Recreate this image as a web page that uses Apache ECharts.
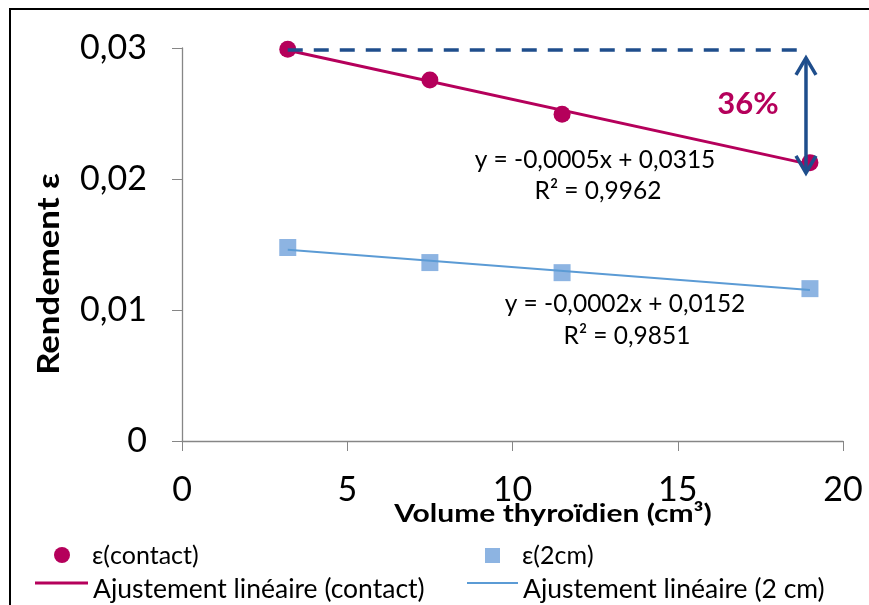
<!DOCTYPE html>
<html><head><meta charset="utf-8">
<script src="https://cdn.jsdelivr.net/npm/echarts@6/dist/echarts.min.js"></script>
<style>html,body{margin:0;padding:0;background:#fff}#c{width:869px;height:605px}</style>
</head><body><div id="c"></div>
<script>
const volumes = [3.2, 7.5, 11.5, 19];
const contactValues = [0.0299, 0.02755, 0.02494, 0.02125];
const twoCmValues = [0.01477, 0.01362, 0.01285, 0.01163];
const xTicks = [0, 5, 10, 15, 20];
const yTicks = [0, 0.01, 0.02, 0.03];
const eqContact = ['y = -0,0005x + 0,0315', 'R² = 0,9962'];
const eq2cm = ['y = -0,0002x + 0,0152', 'R² = 0,9851'];
const refLine = [[3.2, 0.02985], [18.88, 0.02985]];
const arrowSpan = [18.88, 0.02924, 0.02046];
const pctLabel = '36%';

function fit(xs, ys) {
  const n = xs.length;
  const mx = xs.reduce((a, b) => a + b, 0) / n, my = ys.reduce((a, b) => a + b, 0) / n;
  let sxy = 0, sxx = 0;
  for (let i = 0; i < n; i++) { sxy += (xs[i] - mx) * (ys[i] - my); sxx += (xs[i] - mx) ** 2; }
  const a = sxy / sxx, b = my - a * mx;
  return [[xs[0], a * xs[0] + b], [xs[n - 1], a * xs[n - 1] + b]];
}
const MAG = '#B5005B', BLU = '#8DB4E2', BLULINE = '#5B9BD5', DARK = '#1F4E8C';
const F = 'Lato, "Open Sans", sans-serif';

const chart = echarts.init(document.getElementById('c'));
chart.setOption({
  animation: false,
  grid: { left: 182, right: 26, top: 48, bottom: 164 },
  xAxis: {
    type: 'value', min: 0, max: 20, interval: 5,
    axisLine: { show: true, lineStyle: { color: '#868686', width: 1.3 } },
    axisTick: { show: true, length: 10, lineStyle: { color: '#868686' } },
    axisLabel: { fontFamily: F, fontSize: 34, color: '#000', margin: 32, formatter: v => String(v) },
    splitLine: { show: false }
  },
  yAxis: {
    type: 'value', min: 0, max: 0.03, interval: 0.01,
    axisLine: { show: true, lineStyle: { color: '#868686', width: 1.3 } },
    axisTick: { show: true, length: 10, lineStyle: { color: '#868686' } },
    axisLabel: { fontFamily: F, fontSize: 34, color: '#000', margin: 35,
      formatter: v => v === 0 ? '0' : v.toFixed(2).replace('.', ',') },
    splitLine: { show: false }
  },
  series: [
    { type: 'line', data: fit(volumes, contactValues), symbol: 'none', lineStyle: { color: MAG, width: 3 }, z: 2 },
    { type: 'line', data: fit(volumes, twoCmValues), symbol: 'none', lineStyle: { color: BLULINE, width: 2 }, z: 2 },
    { type: 'scatter', data: volumes.map((x, i) => [x, contactValues[i]]), symbol: 'circle', symbolSize: 17,
      itemStyle: { color: MAG, opacity: 1 }, clip: false, z: 3 },
    { type: 'scatter', data: volumes.map((x, i) => [x, twoCmValues[i]]), symbol: 'rect', symbolSize: 17,
      itemStyle: { color: BLU, opacity: 1 }, clip: false, z: 1 },
    { type: 'line', data: refLine, symbol: 'none', lineStyle: { color: DARK, width: 3.5, type: [15, 11] }, z: 4 },
    { type: 'custom', data: [arrowSpan], clip: false, z: 5,
      renderItem: (params, api) => {
        const p1 = api.coord([api.value(0), api.value(1)]);
        const p2 = api.coord([api.value(0), api.value(2)]);
        const s = { stroke: DARK, lineWidth: 3.5, fill: null };
        return { type: 'group', children: [
          { type: 'line', shape: { x1: p1[0], y1: p1[1], x2: p2[0], y2: p2[1] }, style: s },
          { type: 'polyline', shape: { points: [[p1[0] - 10, p1[1] + 17], [p1[0], p1[1]], [p1[0] + 10, p1[1] + 17]] }, style: s },
          { type: 'polyline', shape: { points: [[p2[0] - 10, p2[1] - 17], [p2[0], p2[1]], [p2[0] + 10, p2[1] - 17]] }, style: s }
        ] };
      } }
  ],
  graphic: [
    { type: 'rect', shape: { x: 10, y: 9, width: 870, height: 620 }, style: { fill: null, stroke: '#000', lineWidth: 2 }, silent: true },
    { type: 'text', x: 49, y: 274, rotation: Math.PI / 2, scaleX: 1.12, style: { text: 'Rendement ε', font: 'bold 31px ' + F, fill: '#000', align: 'center', verticalAlign: 'middle' } },
    { type: 'text', x: 553, y: 514, scaleX: 1.2, style: { text: 'Volume thyroïdien (cm³)', font: 'bold 25px ' + F, fill: '#000', align: 'center', verticalAlign: 'middle' } },
    { type: 'text', x: 748, y: 104, style: { text: pctLabel, font: 'bold 31px ' + F, fill: MAG, align: 'center', verticalAlign: 'middle' } },
    { type: 'text', x: 595, y: 160, style: { text: eqContact[0], font: '24.5px ' + F, fill: '#000', align: 'center', verticalAlign: 'middle' } },
    { type: 'text', x: 598, y: 191, style: { text: eqContact[1], font: '24.5px ' + F, fill: '#000', align: 'center', verticalAlign: 'middle' } },
    { type: 'text', x: 625, y: 304, style: { text: eq2cm[0], font: '24.5px ' + F, fill: '#000', align: 'center', verticalAlign: 'middle' } },
    { type: 'text', x: 627, y: 336, style: { text: eq2cm[1], font: '24.5px ' + F, fill: '#000', align: 'center', verticalAlign: 'middle' } },
    { type: 'circle', shape: { cx: 62, cy: 555, r: 8 }, style: { fill: MAG } },
    { type: 'text', x: 92, y: 556, style: { text: 'ε(contact)', font: '25px ' + F, fill: '#000', verticalAlign: 'middle' } },
    { type: 'rect', shape: { x: 485, y: 548, width: 15, height: 15 }, style: { fill: BLU } },
    { type: 'text', x: 522, y: 556, style: { text: 'ε(2cm)', font: '25px ' + F, fill: '#000', verticalAlign: 'middle' } },
    { type: 'line', shape: { x1: 35, y1: 583, x2: 88, y2: 583 }, style: { stroke: MAG, lineWidth: 3 } },
    { type: 'text', x: 93, y: 589, style: { text: 'Ajustement linéaire (contact)', font: '26.5px ' + F, fill: '#000', verticalAlign: 'middle' } },
    { type: 'line', shape: { x1: 467, y1: 583, x2: 518, y2: 583 }, style: { stroke: BLULINE, lineWidth: 2 } },
    { type: 'text', x: 523, y: 589, style: { text: 'Ajustement linéaire (2 cm)', font: '26.5px ' + F, fill: '#000', verticalAlign: 'middle' } }
  ]
});
</script></body></html>
